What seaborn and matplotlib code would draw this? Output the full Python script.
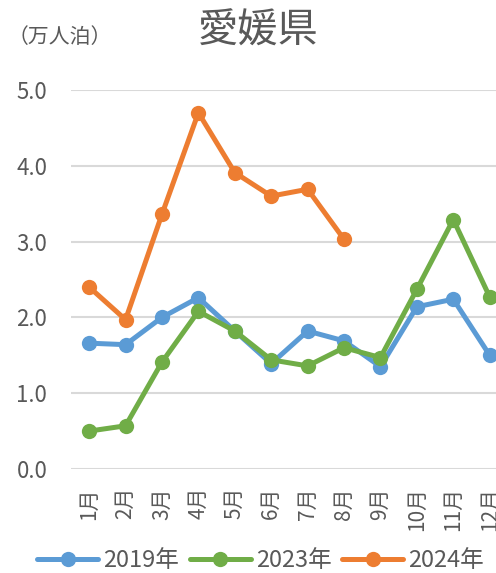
import numpy as np
import pandas as pd
import matplotlib
matplotlib.use("Agg")
import matplotlib.pyplot as plt
import seaborn as sns

# data (万人泊)
months = ["1月", "2月", "3月", "4月", "5月", "6月", "7月", "8月", "9月", "10月", "11月", "12月"]
y2019 = [1.66, 1.64, 2.00, 2.26, 1.82, 1.39, 1.82, 1.69, 1.35, 2.14, 2.24, 1.50]
y2023 = [0.50, 0.57, 1.41, 2.08, 1.82, 1.44, 1.36, 1.60, 1.47, 2.37, 3.29, 2.27]
y2024 = [2.40, 1.97, 3.36, 4.70, 3.91, 3.60, 3.69, 3.03]
series_names = ["2019年", "2023年", "2024年"]
colors = ["#5B9BD5", "#70AD47", "#ED7D31"]

rows = []
for name, vals in zip(series_names, [y2019, y2023, y2024]):
    for i, v in enumerate(vals):
        rows.append({"month": i, "value": v, "year": name})
df = pd.DataFrame(rows)

sns.set_style("white")
plt.rcParams["font.family"] = ["Noto Sans CJK JP", "DejaVu Sans"]
text_color = "#595959"

fig = plt.figure(figsize=(4.96, 5.73), dpi=100)
ax = fig.add_axes([0.143, 0.1815, 0.881, 0.6615])

sns.lineplot(data=df, x="month", y="value", hue="year", palette=colors,
             marker="o", markersize=11, linewidth=3.6, markeredgewidth=0,
             ax=ax, legend=False)

ax.set_xlim(-0.5, 11.5)
ax.set_ylim(0, 5.0)
ax.set_yticks(np.arange(0, 5.01, 1.0))
ax.set_yticklabels([f"{v:.1f}" for v in np.arange(0, 5.01, 1.0)],
                   fontsize=16, color=text_color)
ax.set_xticks(range(len(months)))
ax.set_xticklabels(months, rotation=90, fontsize=15, color=text_color)
ax.tick_params(axis="y", length=0, pad=17)
ax.tick_params(axis="x", length=0, pad=13)
ax.grid(axis="y", color="#D9D9D9", linewidth=1.5)
ax.set_axisbelow(True)
for s in ax.spines.values():
    s.set_visible(False)
ax.set_xlabel("")
ax.set_ylabel("")

fig.text(0.52, 0.945, "愛媛県", fontsize=29, color=text_color, ha="center", va="center")
fig.text(0.015, 0.935, "（万人泊）", fontsize=15, color=text_color, ha="left", va="center")

handles = [plt.Line2D([], [], color=c, marker="o", markersize=11, linewidth=3.6,
                      markeredgewidth=0) for c in colors]
fig.legend(handles, series_names, loc="lower center", bbox_to_anchor=(0.525, -0.035),
           ncol=3, frameon=False, fontsize=17, handlelength=2.6, columnspacing=0.45,
           handletextpad=0.2, labelcolor=text_color)

fig.savefig("out.png", dpi=100)
